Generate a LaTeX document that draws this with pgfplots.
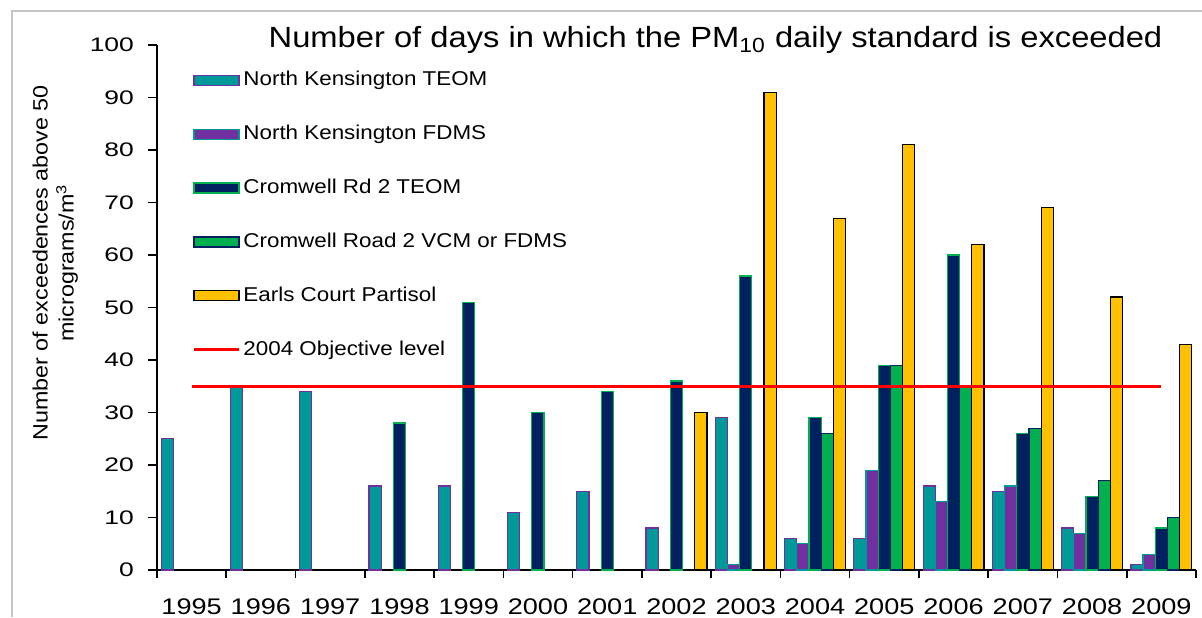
\documentclass[border=0pt]{standalone}
\usepackage{fontspec}
\setmainfont{Liberation Sans}[FakeStretch=1.12]
\newfontfamily\ytickfont{Liberation Sans}[FakeStretch=1.35]
\newfontfamily\xtickfont{Liberation Sans}[FakeStretch=1.2]
\usepackage{pgfplots}
\pgfplotsset{compat=1.18}

\definecolor{nkteom}{RGB}{0,153,153}
\definecolor{nkfdms}{RGB}{112,48,160}
\definecolor{crteom}{RGB}{0,32,96}
\definecolor{crfdms}{RGB}{0,176,80}
\definecolor{earls}{RGB}{255,192,0}

\pgfplotsset{
    barbox/.style={legend image code/.code={\draw[##1,line width=0.6pt] (0pt,-2.5pt) rectangle (22.5pt,2.5pt);}},
}

\begin{document}
\begin{tikzpicture}
\useasboundingbox (-78.5pt,-23.5pt) rectangle (522.5pt,285pt);
\draw[gray!45,line width=0.6pt] (-72.5pt,-23.5pt) -- (-72.5pt,279.5pt) -- (522.5pt,279.5pt);
\begin{axis}[
    scale only axis,
    width=519.5pt, height=262.5pt,
    axis lines=left,
    axis line style={-, black, line width=0.8pt},
    xmin=-0.5, xmax=14.5,
    ymin=0, ymax=100,
    ytick={0,10,...,100},
    xtick={0,...,14},
    xticklabels={1995,1996,1997,1998,1999,2000,2001,2002,2003,2004,2005,2006,2007,2008,2009},
    minor xtick={-0.5,0.5,...,14.5},
    major x tick style={draw=none},
    minor x tick style={black, line width=0.8pt},
    minor tick length=4pt,
    major y tick style={black, line width=0.8pt},
    major tick length=4.5pt,
    tick align=outside,
    /pgf/number format/assume math mode=true,
    xticklabel style={font=\xtickfont\fontsize{11.3}{13}\selectfont, yshift=-6.5pt},
    yticklabel style={font=\ytickfont\fontsize{9.8}{11}\selectfont, xshift=-3.5pt},
    title={Number of days in which the PM\textsubscript{10} daily standard is exceeded},
    title style={font=\fontsize{14.6}{16}\selectfont, at={(0.5375,1)}, anchor=base, yshift=-7.5pt},
    ylabel={Number of exceedences above 50\\micrograms/m\textsuperscript{3}},
    ylabel style={font=\fontsize{10.4}{13}\selectfont, align=center, at={(-0.098,0.585)}, anchor=center},
    legend style={draw=none, fill=none, at={(0.0337,0.956)}, anchor=north west,
        font=\fontsize{10}{12}\selectfont, row sep=15.2pt, inner sep=0pt,
        nodes={inner sep=1.5pt}},
    legend cell align=left,
    clip=false,
]
\addplot[ybar, barbox, bar width=0.176, bar shift=-0.352, fill=nkteom, draw=nkfdms, line width=0.6pt]
    coordinates {(0,25) (1,35) (2,34) (3,16) (4,16) (5,11) (6,15) (7,8) (8,29) (9,6) (10,6) (11,16) (12,15) (13,8) (14,1)};
\addlegendentry{North Kensington TEOM}
\addplot[ybar, barbox, bar width=0.176, bar shift=-0.176, fill=nkfdms, draw=nkteom, line width=0.6pt]
    coordinates {(8,1) (9,5) (10,19) (11,13) (12,16) (13,7) (14,3)};
\addlegendentry{North Kensington FDMS}
\addplot[ybar, barbox, bar width=0.176, bar shift=0, fill=crteom, draw=crfdms, line width=0.6pt]
    coordinates {(3,28) (4,51) (5,30) (6,34) (7,36) (8,56) (9,29) (10,39) (11,60) (12,26) (13,14) (14,8)};
\addlegendentry{Cromwell Rd 2 TEOM}
\addplot[ybar, barbox, bar width=0.176, bar shift=0.176, fill=crfdms, draw=crteom, line width=0.6pt]
    coordinates {(9,26) (10,39) (11,35) (12,27) (13,17) (14,10)};
\addlegendentry{Cromwell Road 2 VCM or FDMS}
\addplot[ybar, barbox, bar width=0.176, bar shift=0.352, fill=earls, draw=black, line width=0.6pt]
    coordinates {(7,30) (8,91) (9,67) (10,81) (11,62) (12,69) (13,52) (14,43)};
\addlegendentry{Earls Court Partisol}
\addplot[red, line width=1.5pt, sharp plot, mark=none,
    legend image code/.code={\draw[red,line width=1.5pt] (0pt,0pt) -- (22.5pt,0pt);}]
    coordinates {(0,35) (1,35) (2,35) (3,35) (4,35) (5,35) (6,35) (7,35) (8,35) (9,35) (10,35) (11,35) (12,35) (13,35) (14,35)};
\addlegendentry{2004 Objective level}
\end{axis}
\end{tikzpicture}
\end{document}
